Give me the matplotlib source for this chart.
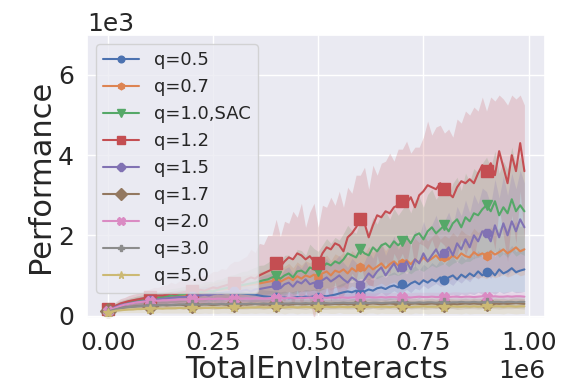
import matplotlib
matplotlib.use("Agg")
import matplotlib.pyplot as plt
import numpy as np
import seaborn as sns

sns.set(style="darkgrid", font_scale=1.5)
plt.rcParams["font.family"] = ["DejaVu Sans"]

# env interactions, one point every 10k steps
steps = np.arange(100) * 10000

labels = ["q=0.5", "q=0.7", "q=1.0,SAC", "q=1.2", "q=1.5",
          "q=1.7", "q=2.0", "q=3.0", "q=5.0"]
markers = ["o", "h", "v", "s", "8", "D", "X", "P", "*"]
msizes = [6, 6, 7, 8, 7, 8, 7, 6, 7]

# performance (thousands), mean and std
q05_mean = [0.1, 0.15, 0.2, 0.24, 0.27, 0.3, 0.32, 0.34, 0.36, 0.38,
            0.4, 0.42, 0.44, 0.45, 0.46, 0.47, 0.48, 0.49, 0.5, 0.5,
            0.51, 0.52, 0.53, 0.54, 0.55, 0.55, 0.56, 0.56, 0.57, 0.57,
            0.57, 0.56, 0.55, 0.54, 0.53, 0.52, 0.5, 0.48, 0.47, 0.46,
            0.45, 0.44, 0.45, 0.43, 0.44, 0.46, 0.45, 0.47, 0.46, 0.48,
            0.47, 0.49, 0.48, 0.5, 0.52, 0.55, 0.58, 0.6, 0.58, 0.62,
            0.55, 0.6, 0.65, 0.62, 0.68, 0.7, 0.66, 0.72, 0.75, 0.7,
            0.78, 0.72, 0.8, 0.85, 0.78, 0.88, 0.82, 0.9, 0.85, 0.95,
            0.88, 0.95, 1.0, 0.9, 1.02, 0.95, 1.05, 0.98, 1.1, 1.0,
            1.08, 1.12, 1.0, 1.15, 1.05, 1.1, 1.18, 1.08, 1.12, 1.15]
q05_std = [0.03, 0.05, 0.06, 0.07, 0.08, 0.08, 0.09, 0.1, 0.1, 0.11,
           0.11, 0.12, 0.12, 0.13, 0.13, 0.14, 0.14, 0.15, 0.15, 0.15,
           0.16, 0.16, 0.17, 0.17, 0.18, 0.18, 0.18, 0.19, 0.19, 0.19,
           0.19, 0.19, 0.18, 0.18, 0.18, 0.17, 0.17, 0.16, 0.16, 0.16,
           0.16, 0.15, 0.16, 0.15, 0.16, 0.17, 0.16, 0.18, 0.17, 0.18,
           0.18, 0.19, 0.19, 0.2, 0.21, 0.22, 0.24, 0.25, 0.24, 0.26,
           0.23, 0.25, 0.28, 0.26, 0.3, 0.31, 0.29, 0.32, 0.34, 0.31,
           0.35, 0.32, 0.36, 0.39, 0.35, 0.4, 0.37, 0.42, 0.39, 0.44,
           0.4, 0.44, 0.47, 0.42, 0.48, 0.44, 0.5, 0.46, 0.52, 0.47,
           0.51, 0.54, 0.47, 0.55, 0.5, 0.52, 0.57, 0.51, 0.54, 0.55]

q07_mean = [0.13, 0.19, 0.23, 0.27, 0.3, 0.32, 0.34, 0.36, 0.37, 0.38,
            0.4, 0.42, 0.43, 0.44, 0.45, 0.46, 0.48, 0.49, 0.5, 0.52,
            0.53, 0.55, 0.56, 0.58, 0.6, 0.62, 0.63, 0.65, 0.66, 0.68,
            0.7, 0.72, 0.74, 0.75, 0.77, 0.78, 0.8, 0.82, 0.84, 0.86,
            0.88, 0.84, 0.9, 0.95, 0.88, 0.98, 0.92, 1.0, 0.96, 1.02,
            0.95, 1.05, 1.1, 1.0, 1.12, 1.08, 1.15, 1.05, 1.18, 1.1,
            1.2, 1.12, 1.25, 1.15, 1.22, 1.3, 1.18, 1.28, 1.35, 1.25,
            1.3, 1.38, 1.28, 1.4, 1.32, 1.45, 1.35, 1.42, 1.5, 1.38,
            1.45, 1.4, 1.5, 1.42, 1.55, 1.48, 1.45, 1.58, 1.5, 1.55,
            1.48, 1.6, 1.52, 1.58, 1.65, 1.55, 1.62, 1.7, 1.6, 1.65]
q07_std = [0.04, 0.05, 0.06, 0.07, 0.08, 0.08, 0.09, 0.1, 0.1, 0.11,
           0.12, 0.12, 0.13, 0.13, 0.14, 0.14, 0.15, 0.15, 0.16, 0.16,
           0.17, 0.18, 0.18, 0.19, 0.2, 0.2, 0.21, 0.22, 0.22, 0.23,
           0.24, 0.25, 0.25, 0.26, 0.27, 0.27, 0.28, 0.29, 0.3, 0.3,
           0.32, 0.3, 0.33, 0.35, 0.31, 0.36, 0.33, 0.37, 0.35, 0.38,
           0.35, 0.39, 0.41, 0.37, 0.42, 0.4, 0.43, 0.39, 0.44, 0.41,
           0.45, 0.42, 0.47, 0.43, 0.46, 0.49, 0.44, 0.48, 0.51, 0.47,
           0.49, 0.52, 0.48, 0.53, 0.5, 0.55, 0.51, 0.54, 0.57, 0.52,
           0.55, 0.53, 0.57, 0.54, 0.59, 0.56, 0.55, 0.6, 0.57, 0.59,
           0.56, 0.61, 0.58, 0.6, 0.63, 0.59, 0.62, 0.65, 0.61, 0.63]

q10_mean = [0.15, 0.2, 0.24, 0.28, 0.3, 0.33, 0.35, 0.37, 0.39, 0.4,
            0.42, 0.44, 0.45, 0.46, 0.48, 0.5, 0.5, 0.52, 0.53, 0.55,
            0.56, 0.57, 0.58, 0.6, 0.62, 0.6, 0.64, 0.66, 0.68, 0.7,
            0.72, 0.74, 0.76, 0.78, 0.8, 0.82, 0.85, 0.88, 0.9, 0.95,
            0.98, 0.92, 1.0, 1.05, 0.95, 1.1, 1.12, 1.05, 1.2, 1.15,
            1.1, 1.2, 1.3, 1.25, 1.35, 1.3, 1.4, 1.55, 1.5, 1.45,
            1.65, 1.55, 1.5, 1.7, 1.6, 1.75, 1.8, 1.7, 1.85, 1.75,
            1.85, 1.95, 1.8, 2.0, 2.05, 1.9, 2.1, 2.2, 2.05, 2.15,
            2.25, 2.1, 2.3, 2.4, 2.2, 2.45, 2.35, 2.55, 2.5, 2.65,
            2.75, 2.6, 2.85, 2.5, 2.7, 2.55, 2.9, 2.6, 2.75, 2.6]
q10_std = [0.05, 0.06, 0.08, 0.09, 0.1, 0.1, 0.11, 0.12, 0.12, 0.13,
           0.14, 0.14, 0.15, 0.16, 0.16, 0.17, 0.18, 0.18, 0.19, 0.2,
           0.2, 0.22, 0.21, 0.24, 0.23, 0.25, 0.26, 0.25, 0.28, 0.3,
           0.3, 0.32, 0.34, 0.33, 0.36, 0.38, 0.4, 0.38, 0.42, 0.45,
           0.48, 0.4, 0.5, 0.46, 0.42, 0.55, 0.5, 0.45, 0.58, 0.52,
           0.5, 0.56, 0.62, 0.55, 0.6, 0.58, 0.65, 0.7, 0.62, 0.6,
           0.72, 0.65, 0.6, 0.75, 0.68, 0.78, 0.8, 0.7, 0.82, 0.75,
           0.8, 0.85, 0.76, 0.88, 0.9, 0.8, 0.92, 0.95, 0.85, 0.9,
           0.95, 0.88, 1.0, 1.05, 0.92, 1.1, 1.0, 1.12, 1.05, 1.15,
           1.2, 1.1, 1.25, 1.05, 1.15, 1.1, 1.3, 1.12, 1.2, 1.1]

q12_mean = [0.15, 0.2, 0.25, 0.3, 0.33, 0.36, 0.38, 0.4, 0.42, 0.44,
            0.46, 0.48, 0.5, 0.5, 0.52, 0.55, 0.53, 0.56, 0.58, 0.6,
            0.6, 0.62, 0.64, 0.62, 0.66, 0.7, 0.68, 0.72, 0.75, 0.78,
            0.8, 0.85, 0.82, 0.9, 0.95, 0.92, 1.0, 1.05, 1.1, 1.15,
            1.3, 1.22, 1.35, 1.45, 1.4, 1.55, 1.5, 1.4, 1.48, 1.35,
            1.3, 1.55, 1.7, 1.65, 1.8, 1.75, 1.6, 1.95, 2.05, 2.2,
            2.4, 2.3, 1.95, 2.25, 2.5, 2.45, 2.6, 2.55, 2.7, 2.75,
            2.85, 2.8, 2.95, 2.7, 3.0, 3.1, 3.25, 3.2, 3.15, 3.3,
            3.15, 3.05, 2.95, 3.2, 3.35, 3.3, 3.4, 3.3, 3.55, 3.75,
            3.6, 3.8, 3.5, 4.1, 3.7, 3.3, 4.0, 3.6, 4.3, 3.6]
q12_std = [0.05, 0.08, 0.1, 0.12, 0.12, 0.14, 0.15, 0.15, 0.16, 0.18,
           0.2, 0.22, 0.2, 0.25, 0.24, 0.28, 0.26, 0.3, 0.28, 0.32,
           0.3, 0.35, 0.33, 0.38, 0.36, 0.4, 0.42, 0.45, 0.4, 0.5,
           0.55, 0.5, 0.6, 0.58, 0.7, 0.65, 0.8, 0.72, 0.9, 0.85,
           1.1, 0.75, 1.0, 0.85, 1.2, 0.9, 1.3, 0.8, 1.1, 1.45,
           0.9, 1.2, 1.0, 1.3, 0.95, 1.35, 1.1, 1.25, 1.0, 1.3,
           1.1, 1.4, 1.2, 1.5, 1.0, 1.35, 1.25, 1.5, 1.15, 1.4,
           1.3, 1.55, 1.1, 1.5, 1.2, 1.35, 1.6, 1.3, 1.55, 1.45,
           1.4, 1.6, 1.5, 1.7, 1.45, 1.8, 1.6, 1.9, 1.55, 1.7,
           1.5, 1.65, 1.85, 1.4, 1.7, 1.95, 1.5, 1.8, 1.2, 1.65]

q15_mean = [0.12, 0.18, 0.22, 0.26, 0.28, 0.3, 0.32, 0.34, 0.35, 0.36,
            0.38, 0.4, 0.4, 0.42, 0.43, 0.44, 0.45, 0.46, 0.46, 0.47,
            0.48, 0.5, 0.5, 0.52, 0.5, 0.53, 0.55, 0.54, 0.56, 0.58,
            0.6, 0.58, 0.62, 0.64, 0.6, 0.65, 0.66, 0.68, 0.7, 0.72,
            0.75, 0.68, 0.78, 0.82, 0.72, 0.85, 0.8, 0.9, 0.78, 0.82,
            0.78, 0.88, 0.95, 0.85, 0.92, 1.0, 0.9, 0.82, 0.95, 0.88,
            0.75, 0.9, 1.05, 0.95, 1.1, 1.2, 1.0, 1.15, 1.3, 1.1,
            1.2, 1.35, 1.15, 1.4, 1.3, 1.55, 1.35, 1.5, 1.65, 1.45,
            1.55, 1.7, 1.5, 1.8, 1.65, 1.9, 1.7, 2.0, 1.85, 2.1,
            2.05, 1.85, 2.25, 1.95, 2.3, 2.0, 2.35, 2.1, 2.4, 2.2]
q15_std = [0.04, 0.06, 0.07, 0.08, 0.09, 0.1, 0.1, 0.11, 0.12, 0.12,
           0.13, 0.14, 0.14, 0.15, 0.15, 0.16, 0.17, 0.17, 0.18, 0.18,
           0.19, 0.2, 0.2, 0.21, 0.2, 0.22, 0.23, 0.22, 0.24, 0.25,
           0.26, 0.25, 0.27, 0.28, 0.26, 0.3, 0.3, 0.32, 0.33, 0.34,
           0.36, 0.3, 0.38, 0.4, 0.32, 0.42, 0.38, 0.45, 0.35, 0.4,
           0.38, 0.44, 0.48, 0.4, 0.46, 0.5, 0.42, 0.38, 0.48, 0.44,
           0.35, 0.45, 0.55, 0.48, 0.58, 0.62, 0.5, 0.6, 0.68, 0.55,
           0.62, 0.7, 0.58, 0.72, 0.66, 0.8, 0.68, 0.76, 0.85, 0.72,
           0.8, 0.88, 0.75, 0.92, 0.84, 0.98, 0.86, 1.02, 0.94, 1.08,
           1.04, 0.92, 1.15, 0.98, 1.18, 1.0, 1.2, 1.06, 1.22, 1.1]

q17_mean = [0.1, 0.14, 0.17, 0.19, 0.2, 0.21, 0.22, 0.23, 0.23, 0.24,
            0.24, 0.25, 0.25, 0.26, 0.25, 0.26, 0.26, 0.27, 0.26, 0.27,
            0.27, 0.26, 0.27, 0.28, 0.27, 0.26, 0.27, 0.28, 0.27, 0.28,
            0.28, 0.27, 0.28, 0.27, 0.28, 0.29, 0.28, 0.27, 0.28, 0.29,
            0.28, 0.29, 0.28, 0.27, 0.28, 0.29, 0.28, 0.28, 0.29, 0.28,
            0.29, 0.28, 0.27, 0.28, 0.29, 0.28, 0.29, 0.28, 0.29, 0.3,
            0.29, 0.28, 0.29, 0.3, 0.29, 0.28, 0.29, 0.3, 0.29, 0.28,
            0.29, 0.3, 0.29, 0.3, 0.29, 0.28, 0.29, 0.3, 0.29, 0.3,
            0.29, 0.3, 0.29, 0.28, 0.29, 0.3, 0.29, 0.3, 0.29, 0.3,
            0.3, 0.29, 0.3, 0.29, 0.3, 0.29, 0.3, 0.31, 0.3, 0.29]
q17_std = [0.03, 0.04, 0.05, 0.06, 0.06, 0.07, 0.07, 0.08, 0.08, 0.08,
           0.08, 0.09, 0.09, 0.09, 0.09, 0.1, 0.1, 0.1, 0.1, 0.1,
           0.1, 0.1, 0.11, 0.11, 0.1, 0.11, 0.11, 0.11, 0.1, 0.11,
           0.11, 0.11, 0.12, 0.11, 0.11, 0.12, 0.11, 0.12, 0.11, 0.12,
           0.12, 0.11, 0.12, 0.12, 0.11, 0.12, 0.12, 0.13, 0.12, 0.12,
           0.12, 0.13, 0.12, 0.12, 0.13, 0.12, 0.13, 0.12, 0.13, 0.13,
           0.12, 0.13, 0.13, 0.12, 0.13, 0.13, 0.12, 0.13, 0.13, 0.13,
           0.13, 0.12, 0.13, 0.13, 0.12, 0.13, 0.13, 0.13, 0.12, 0.13,
           0.13, 0.13, 0.12, 0.13, 0.13, 0.13, 0.12, 0.13, 0.13, 0.13,
           0.13, 0.12, 0.13, 0.13, 0.13, 0.12, 0.13, 0.13, 0.13, 0.13]

q20_mean = [0.1, 0.16, 0.2, 0.24, 0.27, 0.29, 0.31, 0.33, 0.34, 0.35,
            0.36, 0.37, 0.37, 0.38, 0.38, 0.39, 0.39, 0.4, 0.4, 0.4,
            0.41, 0.4, 0.41, 0.41, 0.42, 0.41, 0.42, 0.42, 0.41, 0.42,
            0.42, 0.43, 0.42, 0.43, 0.42, 0.43, 0.43, 0.42, 0.43, 0.44,
            0.43, 0.44, 0.43, 0.44, 0.44, 0.43, 0.44, 0.44, 0.45, 0.44,
            0.44, 0.45, 0.44, 0.45, 0.44, 0.45, 0.45, 0.44, 0.45, 0.46,
            0.45, 0.45, 0.46, 0.45, 0.45, 0.46, 0.45, 0.46, 0.46, 0.45,
            0.46, 0.46, 0.45, 0.46, 0.47, 0.46, 0.46, 0.47, 0.46, 0.46,
            0.47, 0.46, 0.47, 0.47, 0.46, 0.47, 0.47, 0.46, 0.47, 0.48,
            0.47, 0.47, 0.48, 0.47, 0.47, 0.48, 0.47, 0.48, 0.48, 0.47]
q20_std = [0.03, 0.04, 0.05, 0.05, 0.06, 0.06, 0.07, 0.07, 0.07, 0.08,
           0.08, 0.08, 0.08, 0.09, 0.08, 0.09, 0.09, 0.09, 0.09, 0.09,
           0.09, 0.1, 0.09, 0.1, 0.09, 0.1, 0.1, 0.09, 0.1, 0.1,
           0.1, 0.1, 0.1, 0.11, 0.1, 0.1, 0.11, 0.1, 0.11, 0.1,
           0.11, 0.1, 0.11, 0.11, 0.1, 0.11, 0.11, 0.1, 0.11, 0.11,
           0.11, 0.11, 0.1, 0.11, 0.11, 0.12, 0.11, 0.11, 0.12, 0.11,
           0.11, 0.12, 0.11, 0.11, 0.12, 0.11, 0.12, 0.11, 0.12, 0.11,
           0.12, 0.11, 0.12, 0.12, 0.11, 0.12, 0.12, 0.11, 0.12, 0.12,
           0.12, 0.11, 0.12, 0.12, 0.12, 0.11, 0.12, 0.12, 0.12, 0.12,
           0.11, 0.12, 0.12, 0.12, 0.11, 0.12, 0.12, 0.12, 0.12, 0.12]

q30_mean = [0.09, 0.13, 0.16, 0.18, 0.2, 0.21, 0.22, 0.23, 0.24, 0.24,
            0.25, 0.25, 0.26, 0.26, 0.27, 0.26, 0.27, 0.27, 0.28, 0.27,
            0.28, 0.28, 0.27, 0.28, 0.29, 0.28, 0.28, 0.29, 0.28, 0.29,
            0.29, 0.28, 0.29, 0.29, 0.3, 0.29, 0.29, 0.3, 0.29, 0.3,
            0.3, 0.29, 0.3, 0.3, 0.31, 0.3, 0.3, 0.31, 0.3, 0.31,
            0.3, 0.31, 0.31, 0.3, 0.31, 0.31, 0.32, 0.31, 0.31, 0.32,
            0.31, 0.32, 0.31, 0.32, 0.32, 0.31, 0.32, 0.32, 0.33, 0.32,
            0.32, 0.33, 0.32, 0.32, 0.33, 0.32, 0.33, 0.33, 0.32, 0.33,
            0.33, 0.32, 0.33, 0.33, 0.34, 0.33, 0.33, 0.34, 0.33, 0.33,
            0.34, 0.33, 0.34, 0.34, 0.33, 0.34, 0.34, 0.33, 0.34, 0.34]
q30_std = [0.03, 0.04, 0.05, 0.06, 0.06, 0.07, 0.07, 0.07, 0.08, 0.08,
           0.08, 0.08, 0.09, 0.09, 0.09, 0.09, 0.09, 0.1, 0.09, 0.1,
           0.1, 0.1, 0.1, 0.1, 0.1, 0.11, 0.1, 0.1, 0.11, 0.1,
           0.11, 0.11, 0.1, 0.11, 0.11, 0.11, 0.12, 0.11, 0.11, 0.12,
           0.11, 0.12, 0.12, 0.11, 0.12, 0.12, 0.12, 0.11, 0.12, 0.12,
           0.13, 0.12, 0.12, 0.12, 0.13, 0.12, 0.12, 0.13, 0.12, 0.13,
           0.13, 0.12, 0.13, 0.13, 0.12, 0.13, 0.13, 0.13, 0.12, 0.13,
           0.13, 0.13, 0.14, 0.13, 0.13, 0.14, 0.13, 0.13, 0.14, 0.13,
           0.14, 0.13, 0.14, 0.14, 0.13, 0.14, 0.14, 0.13, 0.14, 0.14,
           0.14, 0.13, 0.14, 0.14, 0.14, 0.13, 0.14, 0.14, 0.14, 0.14]

q50_mean = [0.07, 0.1, 0.12, 0.13, 0.14, 0.15, 0.15, 0.16, 0.16, 0.17,
            0.17, 0.17, 0.18, 0.17, 0.18, 0.18, 0.18, 0.19, 0.18, 0.19,
            0.19, 0.18, 0.19, 0.19, 0.19, 0.2, 0.19, 0.19, 0.2, 0.19,
            0.2, 0.2, 0.19, 0.2, 0.2, 0.2, 0.21, 0.2, 0.2, 0.21,
            0.2, 0.21, 0.2, 0.21, 0.21, 0.2, 0.21, 0.21, 0.21, 0.2,
            0.21, 0.21, 0.22, 0.21, 0.21, 0.22, 0.21, 0.21, 0.22, 0.21,
            0.22, 0.21, 0.22, 0.22, 0.21, 0.22, 0.22, 0.21, 0.22, 0.22,
            0.22, 0.22, 0.21, 0.22, 0.22, 0.23, 0.22, 0.22, 0.22, 0.23,
            0.22, 0.22, 0.23, 0.22, 0.22, 0.23, 0.22, 0.23, 0.22, 0.23,
            0.23, 0.22, 0.23, 0.23, 0.22, 0.23, 0.23, 0.22, 0.23, 0.23]
q50_std = [0.03, 0.04, 0.05, 0.06, 0.07, 0.08, 0.08, 0.09, 0.09, 0.1,
           0.1, 0.11, 0.11, 0.11, 0.12, 0.12, 0.12, 0.13, 0.12, 0.13,
           0.13, 0.13, 0.14, 0.13, 0.14, 0.14, 0.14, 0.13, 0.14, 0.14,
           0.15, 0.14, 0.14, 0.15, 0.14, 0.15, 0.15, 0.14, 0.15, 0.15,
           0.15, 0.15, 0.16, 0.15, 0.15, 0.16, 0.15, 0.16, 0.15, 0.16,
           0.16, 0.15, 0.16, 0.16, 0.16, 0.15, 0.16, 0.16, 0.17, 0.16,
           0.16, 0.17, 0.16, 0.16, 0.17, 0.16, 0.17, 0.16, 0.17, 0.17,
           0.16, 0.17, 0.17, 0.16, 0.17, 0.17, 0.18, 0.17, 0.17, 0.18,
           0.17, 0.17, 0.18, 0.17, 0.18, 0.17, 0.18, 0.18, 0.17, 0.18,
           0.18, 0.17, 0.18, 0.18, 0.18, 0.17, 0.18, 0.18, 0.18, 0.18]

means = [q05_mean, q07_mean, q10_mean, q12_mean, q15_mean,
         q17_mean, q20_mean, q30_mean, q50_mean]
stds = [q05_std, q07_std, q10_std, q12_std, q15_std,
        q17_std, q20_std, q30_std, q50_std]
colors = sns.color_palette("deep", 9)

fig = plt.figure(figsize=(5.65, 3.92), dpi=100)
ax = fig.add_axes([0.154, 0.189, 0.811, 0.722])

for lab, mk, ms, c, m, s in zip(labels, markers, msizes, colors, means, stds):
    m = np.array(m) * 1000
    s = np.array(s) * 1000
    ax.fill_between(steps, m - s, m + s, color=c, alpha=0.2, linewidth=0)
    ax.plot(steps, m, color=c, marker=mk, markevery=10, markersize=ms,
            linewidth=1.5, label=lab)

ax.set_xlim(-49500, 1039500)
ax.set_ylim(-60, 7000)
ax.set_xticks([0, 250000, 500000, 750000, 1000000])
ax.set_yticks([0, 2000, 4000, 6000])
ax.ticklabel_format(style="sci", axis="both", scilimits=(0, 0))
ax.tick_params(labelsize=18)
ax.xaxis.get_offset_text().set_fontsize(18)
ax.yaxis.get_offset_text().set_fontsize(18)
ax.set_xlabel("TotalEnvInteracts", fontsize=22, labelpad=0)
ax.set_ylabel("Performance", fontsize=22, labelpad=2)
ax.legend(loc="upper left", fontsize=13, handlelength=2.0, labelspacing=0.5,
          markerscale=0.8)

fig.savefig("out.png", dpi=100)
